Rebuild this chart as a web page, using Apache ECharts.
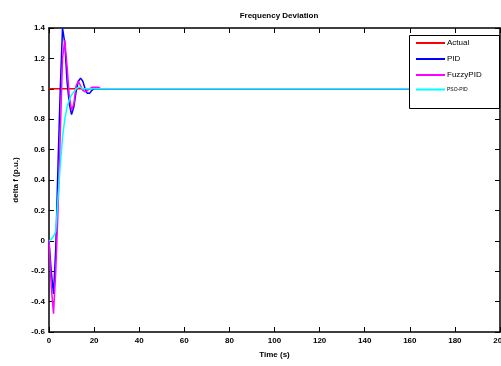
<!DOCTYPE html>
<html>
<head>
<meta charset="utf-8">
<script src="https://cdn.jsdelivr.net/npm/echarts@6/dist/echarts.min.js"></script>
<style>
  html, body { margin: 0; padding: 0; background: #fff; }
  #chart { width: 501px; height: 366px; }
</style>
</head>
<body>
<div id="chart"></div>
<script>
// time points (s) for the transient, last point is the end of the run
const timeSteps = [0, 1, 2, 3, 4, 5, 6, 7, 8, 9, 10, 11, 12, 13, 14, 15, 16, 17, 18, 19, 20, 21, 22, 23, 24, 200];

const actualVals = [1, 1, 1, 1, 1, 1, 1, 1, 1, 1, 1, 1, 1, 1, 1, 1, 1, 1, 1, 1, 1, 1, 1, 1, 1, 1];
const pidVals    = [0, -0.2, -0.35, -0.05, 0.5, 1.0, 1.4, 1.3, 1.05, 0.9, 0.83, 0.88, 0.98, 1.05, 1.07, 1.05, 1.0, 0.97, 0.97, 0.99, 1.0, 1.0, 1.0, 1.0, 1.0, 1.0];
const fuzzyVals  = [0, -0.3, -0.48, -0.2, 0.2, 0.7, 1.2, 1.32, 1.15, 0.95, 0.86, 0.9, 1.02, 1.05, 1.02, 0.99, 0.98, 0.99, 1.0, 1.01, 1.01, 1.01, 1.01, 1.0, 1.0, 1.0];
const psoVals    = [0, 0.01, 0.03, 0.06, 0.28, 0.5, 0.68, 0.8, 0.88, 0.93, 0.96, 0.98, 1.0, 1.01, 1.01, 1.0, 1.0, 1.0, 1.0, 1.0, 1.0, 1.0, 1.0, 1.0, 1.0, 1.0];

const seriesNames = ['Actual', 'PID', 'FuzzyPID', 'PSO-PID'];
const seriesColors = ['#ff0000', '#0000ff', '#ff00ff', '#00ffff'];

const xTicks = { min: 0, max: 200, interval: 20 };
const yTicks = { min: -0.6, max: 1.4, interval: 0.2 };

function pairs(vals) {
    return timeSteps.map((t, i) => [t, vals[i]]);
}

const font = 'Liberation Sans, Arial, sans-serif';
const chart = echarts.init(document.getElementById('chart'));

const lineSeries = [actualVals, pidVals, fuzzyVals, psoVals].map((vals, i) => ({
    name: seriesNames[i],
    type: 'line',
    data: pairs(vals),
    showSymbol: false,
    symbol: 'none',
    lineStyle: { color: seriesColors[i], width: 1.5 },
    itemStyle: { color: seriesColors[i] },
    z: 2 + i
}));

const tickStyle = { show: true, inside: true, length: 5, lineStyle: { color: '#000', width: 1 } };
const boxLine = { show: true, onZero: false, lineStyle: { color: '#000', width: 1.5 } };

chart.setOption({
    animation: false,
    backgroundColor: '#fff',
    title: {
        text: 'Frequency Deviation',
        left: 274, top: 7, textAlign: 'center',
        textStyle: { fontFamily: font, fontSize: 8, fontWeight: 'bold', color: '#000' }
    },
    grid: { left: 49, right: 1, top: 28, bottom: 34, outerBoundsMode: 'none', containLabel: false },
    xAxis: [{
        type: 'value', min: xTicks.min, max: xTicks.max, interval: xTicks.interval,
        name: 'Time (s)', nameLocation: 'middle', nameGap: 19,
        nameTextStyle: { fontFamily: font, fontSize: 8, fontWeight: 'bold', color: '#000' },
        axisLine: boxLine,
        axisTick: tickStyle,
        axisLabel: { fontFamily: font, fontSize: 8, fontWeight: 'bold', color: '#000', margin: 5 },
        splitLine: { show: false }
    }, {
        type: 'value', position: 'top', min: xTicks.min, max: xTicks.max, interval: xTicks.interval,
        axisLine: boxLine,
        axisTick: tickStyle,
        axisLabel: { show: false },
        splitLine: { show: false }
    }],
    yAxis: [{
        type: 'value', min: yTicks.min, max: yTicks.max, interval: yTicks.interval,
        name: 'delta f (p.u.)', nameLocation: 'middle', nameGap: 29,
        nameTextStyle: { fontFamily: font, fontSize: 8, fontWeight: 'bold', color: '#000' },
        axisLine: boxLine,
        axisTick: tickStyle,
        axisLabel: {
            fontFamily: font, fontSize: 8, fontWeight: 'bold', color: '#000', margin: 4,
            formatter: v => String(Math.round(v * 10) / 10)
        },
        splitLine: { show: false }
    }, {
        type: 'value', position: 'right', min: yTicks.min, max: yTicks.max, interval: yTicks.interval,
        axisLine: boxLine,
        axisTick: tickStyle,
        axisLabel: { show: false },
        splitLine: { show: false }
    }],
    graphic: [{
        type: 'rect', left: 409, top: 35, z: 90,
        shape: { width: 90, height: 73 },
        style: { fill: '#fff', stroke: '#000', lineWidth: 1 }
    }],
    legend: {
        orient: 'vertical', left: 409, top: 35, z: 100,
        padding: [4, 4, 4, 7],
        itemWidth: 29, itemHeight: 10, itemGap: 8,
        icon: 'path://M0,4L29,4L29,6L0,6Z',
        textStyle: { fontFamily: font, fontSize: 8, color: '#000', padding: [0, 0, 0, -3] },
        data: [
            { name: 'Actual' },
            { name: 'PID' },
            { name: 'FuzzyPID' },
            { name: 'PSO-PID', textStyle: { fontSize: 5 } }
        ]
    },
    series: lineSeries
});
</script>
</body>
</html>
